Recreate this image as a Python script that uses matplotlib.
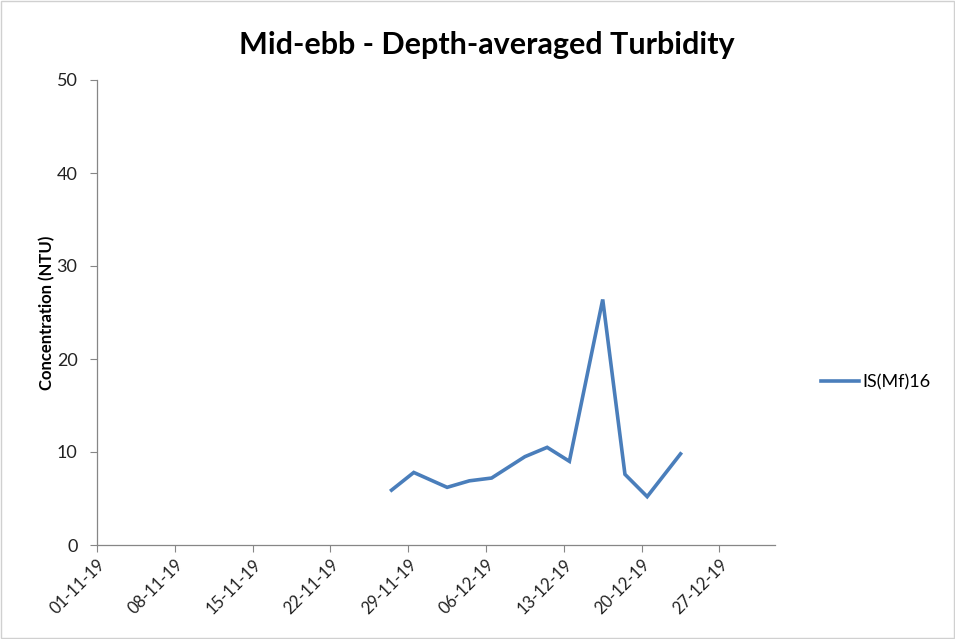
import datetime as dt

import matplotlib
matplotlib.use("Agg")
import matplotlib.dates as mdates
import numpy as np
from matplotlib import pyplot as plt

plt.rcParams["font.family"] = ["Lato", "DejaVu Sans"]

# sample dates (Excel places each point mid-day on a date axis)
dates = ["2019-11-27", "2019-11-29", "2019-12-02", "2019-12-04", "2019-12-06",
         "2019-12-09", "2019-12-11", "2019-12-13", "2019-12-16", "2019-12-18",
         "2019-12-20", "2019-12-23"]
turbidity = [5.9, 7.8, 6.2, 6.9, 7.2, 9.5, 10.5, 9.0, 26.4, 7.6, 5.2, 9.8]
series_name = "IS(Mf)16"

x = [dt.datetime.fromisoformat(d) + dt.timedelta(hours=12) for d in dates]

fig = plt.figure(figsize=(9.55, 6.39), dpi=100)
ax = fig.add_axes([97 / 955, 1 - 545 / 639, (775 - 97) / 955, (545 - 80) / 639])

line, = ax.plot(x, turbidity, color="#4A7EBB", lw=2.6, solid_joinstyle="miter")

ax.set_xlim(dt.datetime(2019, 11, 1), dt.datetime(2020, 1, 1))
ax.set_ylim(0, 50)
ax.set_yticks(np.arange(0, 51, 10))
ticks = [dt.datetime(2019, 11, 1) + dt.timedelta(days=7 * i) for i in range(9)]
ax.set_xticks(ticks)
ax.xaxis.set_major_formatter(mdates.DateFormatter("%d-%m-%y"))
for lbl in ax.get_xticklabels():
    lbl.set_rotation(45)
    lbl.set_ha("right")
    lbl.set_rotation_mode("anchor")
    lbl.set_fontsize(12)

for s in ["top", "right"]:
    ax.spines[s].set_visible(False)
for s in ["left", "bottom"]:
    ax.spines[s].set_color("#868686")
    ax.spines[s].set_linewidth(0.9)
ax.tick_params(axis="both", direction="out", length=5, color="#868686",
               labelcolor="#222222")
ax.tick_params(axis="y", pad=9, labelsize=13)

ax.set_ylabel("Concentration (NTU)", fontsize=12, fontweight="bold", labelpad=1)
fig.text(487 / 955, 1 - 45 / 639, "Mid-ebb - Depth-averaged Turbidity",
         ha="center", va="center", fontsize=22, fontweight="bold")

fig.legend([line], [series_name], loc="center left",
           bbox_to_anchor=(805 / 955, 1 - 382 / 639), frameon=False,
           fontsize=13, handlelength=2.1, handletextpad=0.2)

# outer chart border
fig.patches.append(plt.Rectangle((0.001, 0.001), 0.998, 0.998, transform=fig.transFigure,
                                 fill=False, edgecolor="#d0d0d0", lw=1))

fig.savefig("out.png", dpi=100)
